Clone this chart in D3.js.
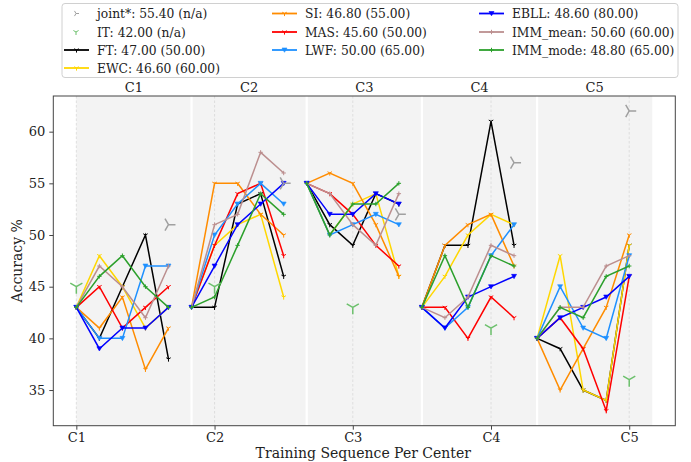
<!DOCTYPE html>
<html><head><meta charset="utf-8">
<script src="https://cdn.jsdelivr.net/npm/d3@7/dist/d3.min.js"></script>
<style>
body{margin:0;background:#fff;}
text{font-family:"DejaVu Serif",serif;}
</style></head><body>
<svg id="c" width="691" height="462"></svg>
<script>
const centers = ["C1","C2","C3","C4","C5"];
const methods = ["FT","EWC","SI","MAS","LWF","EBLL","IMM_mean","IMM_mode"];
const FT       = [[43,40,45,50,38],[43,43,53,54,46],[55,51,49,54,53],[43,49,49,61,49],[40,39,35,34,49]];
const EWC      = [[43,48,45,41,43],[43,49,51,52,44],[55,50,53,54,46],[43,46,50,52,51],[40,48,35,34,49]];
const SI       = [[43,41,44,37,41],[43,55,55,52,50],[55,56,55,51,46],[43,49,51,52,47],[40,35,39,43,50]];
const MAS      = [[43,45,41,43,45],[43,49,54,55,48],[55,54,52,49,47],[43,43,40,44,42],[40,42,39,33,46]];
const LWF      = [[43,40,40,47,47],[43,50,53,55,53],[55,50,51,52,51],[43,41,43,48,51],[40,45,41,40,48]];
const EBLL     = [[43,39,41,41,43],[43,47,51,53,55],[55,52,52,54,53],[43,41,44,45,46],[40,42,43,44,46]];
const IMM_mean = [[43,47,45,42,47],[43,51,52,58,56],[55,54,51,49,54],[43,42,44,49,48],[40,43,43,47,48]];
const IMM_mode = [[43,46,48,45,43],[43,44,49,54,52],[55,50,53,53,55],[43,48,43,48,47],[40,43,42,46,47]];
const joint = [51,55,52,57,62];
const IT = [45,45,43,41,36];
const extraScore = {joint:"n/a", IT:"n/a", FT:"50.00", EWC:"60.00", SI:"55.00", MAS:"50.00", LWF:"65.00", EBLL:"80.00", IMM_mean:"60.00", IMM_mode:"65.00"};
const yTicks = [35,40,45,50,55,60];

const series = {FT,EWC,SI,MAS,LWF,EBLL,IMM_mean,IMM_mode};
const colors = {FT:"#000000",EWC:"#FFD700",SI:"#FF8C00",MAS:"#FF0000",LWF:"#1E90FF",EBLL:"#0000FF",IMM_mean:"#BC8F8F",IMM_mode:"#2CA02C"};
const markerType = {FT:"tri",EWC:"tri",SI:"tri",MAS:"tri",LWF:"v",EBLL:"v",IMM_mean:"plus",IMM_mode:"plus"};
const steps = 5;

const svg = d3.select("#c");
const L=53.3,R=675.3,T=96,B=425.7;
const x = d3.scaleLinear().domain([-1,26]).range([L,R]);
const y = d3.scaleLinear().domain([31.55,63.45]).range([B,T]);

// shaded panels
svg.append("rect").attr("x",x(0)).attr("y",T).attr("width",x(25)-x(0)).attr("height",B-T).attr("fill","#f3f3f3");
for(let k=1;k<centers.length;k++){
  svg.append("line").attr("x1",x(k*steps)).attr("x2",x(k*steps)).attr("y1",T).attr("y2",B).attr("stroke","#fff").attr("stroke-width",2.2);
}
// dashed grid at ticks
const tickIdx = centers.map((c,k)=>k*steps+k);
svg.append("g").selectAll("line").data(tickIdx).join("line")
  .attr("x1",d=>x(d)).attr("x2",d=>x(d)).attr("y1",T).attr("y2",B)
  .attr("stroke","#d8d8d8").attr("stroke-width",0.8).attr("stroke-dasharray","2.5,2");

function triPath(r, dir){
  const s=Math.sin(Math.PI/3);
  let pts = dir==="down" ? [[0,r],[-r*s,-r/2],[r*s,-r/2]] : [[r,0],[-r/2,-r*s],[-r/2,r*s]];
  return pts.map(p=>`M0,0L${p[0]},${p[1]}`).join("");
}
function drawMarker(g, type, cx, cy, col){
  if(type==="tri"){
    g.append("path").attr("d",triPath(2.6,"down")).attr("transform",`translate(${cx},${cy})`).attr("stroke",col).attr("stroke-width",1).attr("fill","none");
  } else if(type==="v"){
    g.append("path").attr("d","M-2.5,-2L2.5,-2L0,2.3Z").attr("transform",`translate(${cx},${cy})`).attr("fill",col).attr("stroke",col).attr("stroke-width",0.6);
  } else {
    g.append("path").attr("d","M-2.2,0L2.2,0M0,-2.2L0,2.2").attr("transform",`translate(${cx},${cy})`).attr("stroke",col).attr("stroke-width",1).attr("fill","none");
  }
}

const line = d3.line().x(d=>x(d.i)).y(d=>y(d.v));
const gLines = svg.append("g");
methods.forEach(m=>{
  series[m].forEach((vals,k)=>{
    const pts = vals.map((v,s)=>({i:k*steps+s,v}));
    gLines.append("path").datum(pts).attr("d",line).attr("fill","none").attr("stroke",colors[m]).attr("stroke-width",1.5).attr("stroke-linejoin","miter");
    pts.forEach(p=>drawMarker(gLines,markerType[m],x(p.i),y(p.v),colors[m]));
  });
});
// joint and IT markers
joint.forEach((v,k)=>{
  svg.append("path").attr("d",triPath(7,"right")).attr("transform",`translate(${x(k*steps+steps-1)},${y(v)})`).attr("stroke","#a0a0a0").attr("stroke-width",1.5).attr("fill","none");
});
IT.forEach((v,k)=>{
  svg.append("path").attr("d",triPath(7,"down")).attr("transform",`translate(${x(k*steps+k)},${y(v)})`).attr("stroke","#6cc06c").attr("stroke-width",1.5).attr("fill","none");
});

// spines
svg.append("rect").attr("x",L).attr("y",T).attr("width",R-L).attr("height",B-T).attr("fill","none").attr("stroke","#444").attr("stroke-width",1);

// axes
const yAxis = d3.axisLeft(y).tickValues(yTicks).tickSize(4).tickPadding(4);
const gy = svg.append("g").attr("transform",`translate(${L},0)`).call(yAxis);
gy.select(".domain").remove();
gy.selectAll("text").attr("font-size",13).attr("fill","#222").attr("font-family","DejaVu Serif");
gy.selectAll("line").attr("stroke","#444");
const xAxis = d3.axisBottom(x).tickValues(tickIdx).tickFormat((d,i)=>centers[i]).tickSize(4).tickPadding(3);
const gx = svg.append("g").attr("transform",`translate(0,${B})`).call(xAxis);
gx.select(".domain").remove();
gx.selectAll("text").attr("font-size",13).attr("fill","#222").attr("font-family","DejaVu Serif");
gx.selectAll("line").attr("stroke","#444");

// panel titles
centers.forEach((c,k)=>{
  svg.append("text").attr("x",x(k*steps+2.5)).attr("y",92).attr("text-anchor","middle").attr("font-size",13).attr("fill","#222").text(c);
});
svg.append("text").attr("x",(L+R)/2 - 1).attr("y",457.5).attr("text-anchor","middle").attr("font-size",14).attr("fill","#222").text("Training Sequence Per Center");
svg.append("text").attr("transform",`translate(22,${(T+B)/2}) rotate(-90)`).attr("text-anchor","middle").attr("font-size",14).attr("fill","#222").text("Accuracy %");

// legend
svg.append("rect").attr("x",62).attr("y",3.5).attr("width",616).attr("height",74).attr("rx",3).attr("fill","#fff").attr("stroke","#d0d0d0").attr("stroke-width",1);
const finalMean = m => d3.mean(series[m], v=>v[v.length-1]);
const legendItems = [
  {name:"joint*", key:"joint", val:d3.mean(joint)},
  {name:"IT", key:"IT", val:d3.mean(IT)},
  ...methods.map(m=>({name:m,key:m,val:finalMean(m)}))
];
const colX = [64,272,479], rowY=[13.5,32,50,68];
const perCol = [4,3,3];
let idx=0;
perCol.forEach((n,c)=>{
  for(let r=0;r<n;r++){
    const it = legendItems[idx++];
    const g = svg.append("g").attr("transform",`translate(${colX[c]},${rowY[r]})`);
    if(it.key==="joint"){
      g.append("path").attr("d",triPath(3,"right")).attr("transform","translate(12,0)").attr("stroke","#a0a0a0").attr("stroke-width",1).attr("fill","none");
    } else if(it.key==="IT"){
      g.append("path").attr("d",triPath(3,"down")).attr("transform","translate(12,0)").attr("stroke","#6cc06c").attr("stroke-width",1).attr("fill","none");
    } else {
      g.append("line").attr("x1",0).attr("x2",25).attr("stroke",colors[it.key]).attr("stroke-width",1.8);
      drawMarker(g,markerType[it.key],12.5,0,colors[it.key]);
    }
    g.append("text").attr("x",33).attr("y",4.5).attr("font-size",12.3).attr("fill","#222")
      .text(`${it.name}: ${it.val.toFixed(2)} (${extraScore[it.key]})`);
  }
});
</script></body></html>
